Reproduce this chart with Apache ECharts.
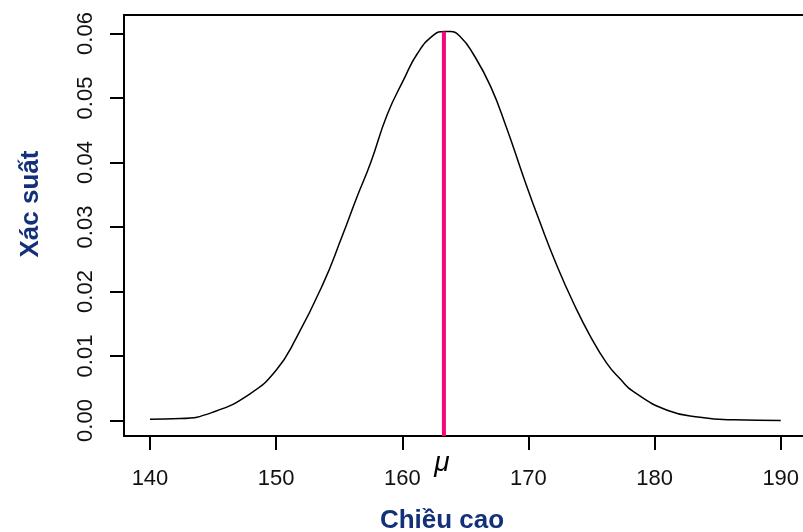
<!DOCTYPE html>
<html>
<head>
<meta charset="utf-8">
<script src="https://cdn.jsdelivr.net/npm/echarts@6/dist/echarts.min.js"></script>
<style>
  html, body { margin: 0; padding: 0; background: #fff; overflow: hidden; }
  #chart { width: 803px; height: 532px; }
</style>
</head>
<body>
<div id="chart"></div>
<script>
// chiều cao (cm) và xác suất
var heights = [140, 142.4, 145, 147.9, 150, 151.6, 153.7, 155.2, 156.4, 157.5, 158.8, 160.1, 161.2, 162.5, 163.3,
  163.8, 164.6, 165.6, 167, 168.3, 169.6, 170.9, 172.3, 173.6, 174.9, 176.2, 177.3, 178.3, 181, 183.6, 186.3, 190];
var probs = [0.0002, 0.0003, 0.0013, 0.0041, 0.0078, 0.0128, 0.0211, 0.0284, 0.0346, 0.0400, 0.0474, 0.0528, 0.0569, 0.0598, 0.0603,
  0.0603, 0.0595, 0.0569, 0.0518, 0.0452, 0.0378, 0.0308, 0.0238, 0.0181, 0.0131, 0.0089, 0.0064, 0.0045, 0.0016, 0.0005, 0.0001, 0.0000];
var xTicks = [140, 150, 160, 170, 180, 190];
var yTicks = [0, 0.01, 0.02, 0.03, 0.04, 0.05, 0.06];
var mu = 163.3;
var muPeak = 0.0603;

var xMin = 137.94, xMax = 193.43;
var yMin = -0.0024, yMax = 0.06287;

var curve = heights.map(function (h, i) { return [h, probs[i]]; });

var chart = echarts.init(document.getElementById("chart"));
var font = "Liberation Sans";
var boxLine = { color: "#000", width: 2 };
var option = {
  animation: false,
  grid: {
    left: 124,
    top: 15,
    width: 700,
    height: 421,
    outerBoundsMode: "none",
    containLabel: false,
    show: false
  },
  xAxis: [
    {
      type: "value",
      min: xMin,
      max: xMax,
      axisLine: { show: true, onZero: false, lineStyle: boxLine },
      splitLine: { show: false },
      axisTick: {
        show: true,
        customValues: xTicks,
        length: 14,
        lineStyle: boxLine
      },
      axisLabel: {
        customValues: xTicks,
        margin: 32,
        fontSize: 22,
        fontFamily: font,
        color: "#111"
      }
    },
    {
      // đường viền trên của khung
      type: "value",
      position: "top",
      min: xMin,
      max: xMax,
      axisLine: { show: true, onZero: false, lineStyle: boxLine },
      splitLine: { show: false },
      axisTick: { show: false },
      axisLabel: { show: false }
    }
  ],
  yAxis: {
    type: "value",
    min: yMin,
    max: yMax,
    axisLine: { show: true, onZero: false, lineStyle: boxLine },
    splitLine: { show: false },
    axisTick: {
      show: true,
      customValues: yTicks,
      length: 14,
      lineStyle: boxLine
    },
    axisLabel: {
      customValues: yTicks,
      rotate: 90,
      margin: 27,
      fontSize: 22,
      fontFamily: font,
      color: "#111",
      formatter: function (v) { return v.toFixed(2); }
    }
  },
  graphic: [
    {
      type: "text",
      x: 31,
      y: 204,
      rotation: Math.PI / 2,
      style: {
        text: "Xác suất",
        font: "bold 26px 'Liberation Sans'",
        fill: "#13307A",
        textAlign: "center",
        textVerticalAlign: "middle",
        align: "center",
        verticalAlign: "middle"
      }
    },
    {
      type: "text",
      x: 442,
      y: 521,
      style: {
        text: "Chiều cao",
        font: "bold 26px 'Liberation Sans'",
        fill: "#13307A",
        textAlign: "center",
        textVerticalAlign: "middle",
        align: "center",
        verticalAlign: "middle"
      }
    },
    {
      // khung bị cắt ở mép phải, không có cạnh phải
      type: "rect",
      shape: { x: 792, y: 17, width: 20, height: 417 },
      style: { fill: "#fff" },
      z: 100
    }
  ],
  series: [
    {
      type: "line",
      data: curve,
      smooth: 0.5,
      showSymbol: false,
      lineStyle: { color: "#000", width: 1.5 },
      z: 3
    },
    {
      type: "line",
      data: [
        {
          value: [mu, yMin],
          symbol: "circle",
          symbolSize: 0,
          label: {
            show: true,
            position: "bottom",
            distance: 13,
            offset: [-2, 0],
            formatter: "μ",
            fontSize: 28,
            fontStyle: "italic",
            fontFamily: font,
            color: "#000"
          }
        },
        { value: [mu, muPeak], symbol: "none" }
      ],
      showSymbol: true,
      symbolSize: 0,
      lineStyle: { color: "#F5067F", width: 4 },
      z: 4
    }
  ]
};
chart.setOption(option);
</script>
</body>
</html>
